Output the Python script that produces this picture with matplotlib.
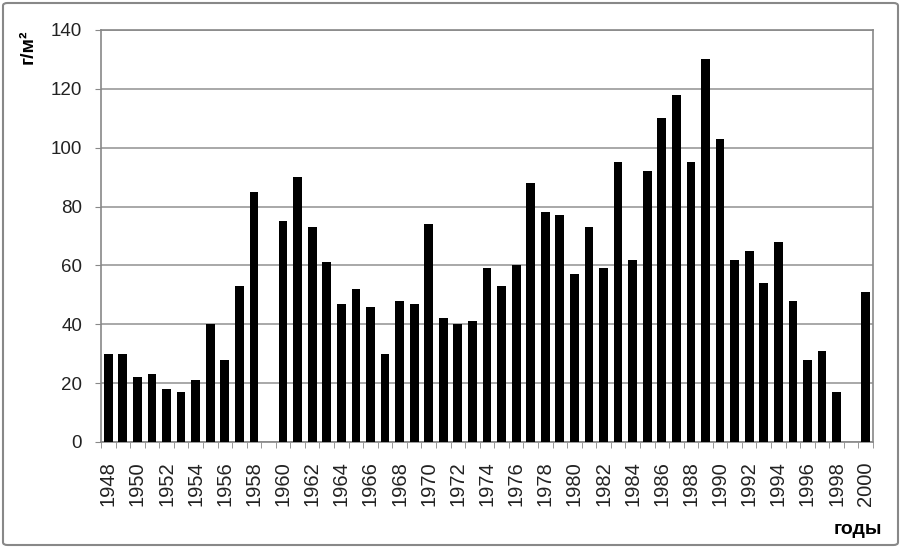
import numpy as np
import matplotlib
matplotlib.use('Agg')
import matplotlib.pyplot as plt
from matplotlib.patches import FancyBboxPatch

years = list(range(1948, 2001))
values = [30, 30, 22, 23, 18, 17, 21, 40, 28, 53, 85, 0,
          75, 90, 73, 61, 47, 52, 46, 30, 48, 47, 74, 42, 40, 41,
          59, 53, 60, 88, 78, 77, 57, 73, 59, 95, 62, 92, 110, 118,
          95, 130, 103, 62, 65, 54, 68, 48, 28, 31, 17, 0, 51]
y_ticks = [0, 20, 40, 60, 80, 100, 120, 140]

plt.rcParams['font.family'] = ['Liberation Sans', 'DejaVu Sans']

fig = plt.figure(figsize=(9.02, 5.48), dpi=100)
ax = fig.add_axes([101 / 902, 1 - 442 / 548, 772 / 902, 412 / 548])

x = np.arange(len(years))
ax.bar(x, values, width=0.6, color='black', zorder=3)

ax.set_xlim(-0.5, len(years) - 0.5)
ax.set_ylim(0, 140)
ax.set_yticks(y_ticks)
ax.set_yticklabels([str(v) for v in y_ticks], fontsize=13.5, color='#222222')
ax.yaxis.grid(True, color='#999999', linewidth=1.2, zorder=0)

ax.set_xticks(x[::2])
ax.set_xticklabels([str(y) for y in years[::2]], rotation=90, fontsize=14.5, color='#222222')
ax.set_xticks(np.arange(-0.5, len(years), 1), minor=True)
ax.tick_params(axis='x', which='major', length=0, pad=14)
ax.tick_params(axis='x', which='minor', length=4.5, color='#888888')
ax.tick_params(axis='y', length=4.5, color='#888888', pad=9)

for side in ['left', 'right', 'top', 'bottom']:
    ax.spines[side].set_color('#888888')
    ax.spines[side].set_linewidth(1.2)

fig.text(28 / 902, 1 - 47 / 548, 'г/м²', rotation=90, fontsize=14, fontweight='bold',
         ha='center', va='center')
fig.text(858 / 902, 1 - 530 / 548, 'годы', fontsize=14, fontweight='bold',
         ha='center', va='center')

frame = FancyBboxPatch((3 / 902, 3 / 548), 895 / 902, 542 / 548,
                       boxstyle='round,pad=0,rounding_size=0.005',
                       transform=fig.transFigure, fill=False,
                       edgecolor='#888888', linewidth=1.5)
fig.patches.append(frame)

fig.savefig('out.png', dpi=100)
